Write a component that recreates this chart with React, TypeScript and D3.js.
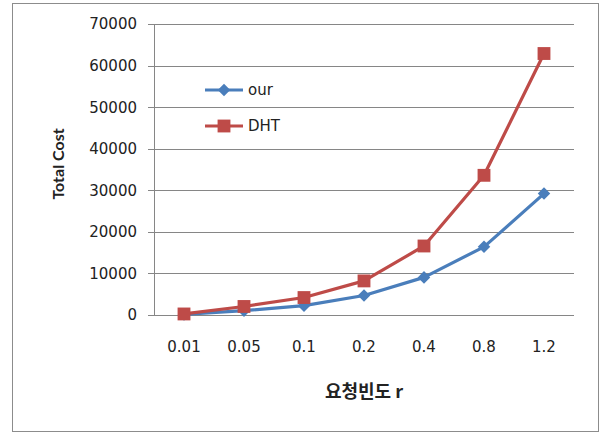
import { useEffect, useRef } from 'react'
import * as d3 from 'd3'

const categories = ['0.01', '0.05', '0.1', '0.2', '0.4', '0.8', '1.2']
const ourValues = [150, 1050, 2250, 4700, 9050, 16400, 29200]
const dhtValues = [250, 2050, 4200, 8200, 16600, 33600, 62900]
const yTicks = [0, 10000, 20000, 30000, 40000, 50000, 60000, 70000]

const BLUE = '#4a7ebb'
const RED = '#be4b48'
const GRID = '#868686'
const FONT = '"DejaVu Sans", sans-serif'

export default function App() {
    const svgRef = useRef<SVGSVGElement>(null)

    useEffect(() => {
        if (!svgRef.current) return
        const svg = d3.select(svgRef.current)
        const width = 607
        const height = 433
        const margin = { top: 24, right: 33, bottom: 118, left: 154 }

        svg.attr('width', width).attr('height', height)
        svg.selectAll('*').remove()

        svg.append('rect')
            .attr('x', 0).attr('y', 0)
            .attr('width', width).attr('height', height)
            .attr('fill', '#fff')

        // outer chart border
        svg.append('rect')
            .attr('x', 12.5).attr('y', 3.5)
            .attr('width', 586).attr('height', 428)
            .attr('fill', 'none')
            .attr('stroke', '#8c8c8c')
            .attr('stroke-width', 1)

        const x = d3.scaleBand()
            .domain(categories)
            .range([margin.left, width - margin.right])
        const y = d3.scaleLinear()
            .domain([0, 70000])
            .range([height - margin.bottom, margin.top])

        // gridlines with tick stubs
        svg.append('g')
            .selectAll('line')
            .data(yTicks)
            .enter()
            .append('line')
            .attr('x1', margin.left - 6)
            .attr('x2', width - margin.right)
            .attr('y1', d => Math.round(y(d)) + 0.5)
            .attr('y2', d => Math.round(y(d)) + 0.5)
            .attr('stroke', GRID)
            .attr('stroke-width', 1)

        svg.append('line')
            .attr('x1', margin.left + 0.5).attr('x2', margin.left + 0.5)
            .attr('y1', y(70000)).attr('y2', y(0))
            .attr('stroke', GRID)

        svg.append('g')
            .selectAll('text')
            .data(yTicks)
            .enter()
            .append('text')
            .attr('x', margin.left - 17)
            .attr('y', d => y(d))
            .attr('dy', '0.36em')
            .attr('text-anchor', 'end')
            .attr('font-family', FONT)
            .attr('font-size', '15px')
            .attr('fill', '#222')
            .text(d => d)

        svg.append('g')
            .selectAll('text')
            .data(categories)
            .enter()
            .append('text')
            .attr('x', d => (x(d) || 0) + x.bandwidth() / 2)
            .attr('y', 347)
            .attr('dy', '0.36em')
            .attr('text-anchor', 'middle')
            .attr('font-family', FONT)
            .attr('font-size', '15px')
            .attr('fill', '#222')
            .text(d => d)

        svg.append('text')
            .attr('x', (margin.left + width - margin.right) / 2)
            .attr('y', 392)
            .attr('dy', '0.36em')
            .attr('text-anchor', 'middle')
            .attr('font-family', '"Noto Sans CJK KR", sans-serif')
            .attr('font-weight', 'bold')
            .attr('font-size', '18px')
            .attr('fill', '#222')
            .text('요청빈도 r')

        svg.append('text')
            .attr('transform', 'translate(58,164) rotate(-90)')
            .attr('dy', '0.36em')
            .attr('text-anchor', 'middle')
            .attr('font-family', 'Lato, sans-serif')
            .attr('font-weight', 'bold')
            .attr('font-size', '16px')
            .attr('fill', '#222')
            .text('Total Cost')

        const cx = (i: number) => (x(categories[i]) || 0) + x.bandwidth() / 2
        const line = d3.line<number>()
            .x((_, i) => cx(i))
            .y(d => y(d))

        svg.append('path')
            .datum(ourValues)
            .attr('fill', 'none')
            .attr('stroke', BLUE)
            .attr('stroke-width', 3.2)
            .attr('stroke-linejoin', 'round')
            .attr('d', line)

        svg.append('path')
            .datum(dhtValues)
            .attr('fill', 'none')
            .attr('stroke', RED)
            .attr('stroke-width', 3.2)
            .attr('stroke-linejoin', 'round')
            .attr('d', line)

        const diamond = d3.symbol().type(d3.symbolDiamond2).size(100)
        const square = d3.symbol().type(d3.symbolSquare).size(165)

        svg.selectAll('.our-point')
            .data(ourValues)
            .enter()
            .append('path')
            .attr('class', 'our-point')
            .attr('transform', (d, i) => `translate(${cx(i)},${y(d)})`)
            .attr('d', diamond)
            .attr('fill', BLUE)

        svg.selectAll('.dht-point')
            .data(dhtValues)
            .enter()
            .append('path')
            .attr('class', 'dht-point')
            .attr('transform', (d, i) => `translate(${cx(i)},${y(d)})`)
            .attr('d', square)
            .attr('fill', RED)

        // legend
        const legend = svg.append('g').attr('transform', 'translate(205,0)')
        const items = [
            { name: 'our', color: BLUE, sym: diamond, y: 90 },
            { name: 'DHT', color: RED, sym: square, y: 126 },
        ]
        items.forEach(it => {
            legend.append('line')
                .attr('x1', 0).attr('x2', 38)
                .attr('y1', it.y).attr('y2', it.y)
                .attr('stroke', it.color)
                .attr('stroke-width', 3)
            legend.append('path')
                .attr('transform', `translate(19,${it.y})`)
                .attr('d', it.sym)
                .attr('fill', it.color)
            legend.append('text')
                .attr('x', 43)
                .attr('y', it.y)
                .attr('dy', '0.36em')
                .attr('font-family', FONT)
                .attr('font-size', '15px')
                .attr('fill', '#222')
                .text(it.name)
        })
    }, [])

    return <svg ref={svgRef} style={{ position: 'absolute', left: 0, top: 0 }} />
}
